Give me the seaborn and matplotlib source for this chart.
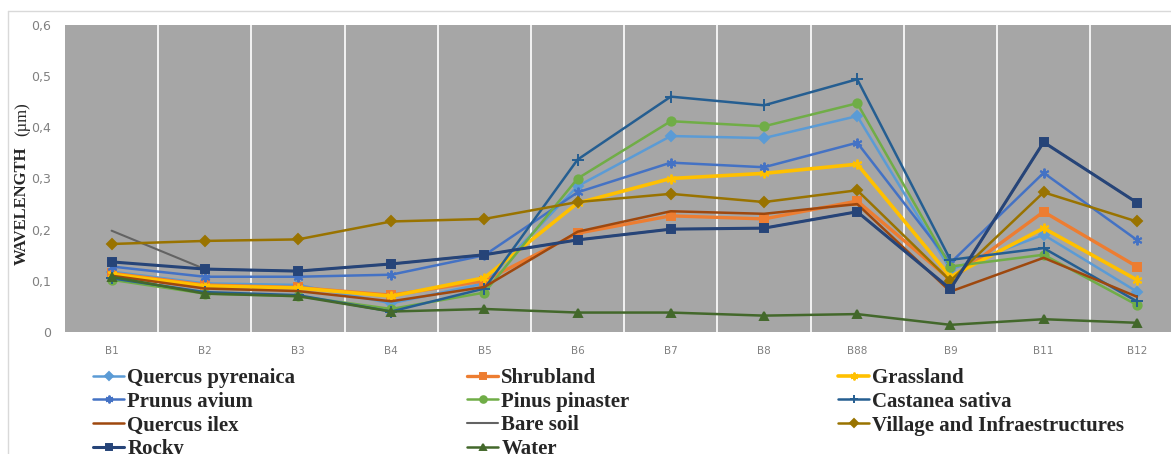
import numpy as np
import matplotlib
matplotlib.use("Agg")
import matplotlib.pyplot as plt
import seaborn as sns
from matplotlib.lines import Line2D
from matplotlib.ticker import FuncFormatter, MultipleLocator

# Sentinel bands on the x axis
bands = ["B1", "B2", "B3", "B4", "B5", "B6", "B7", "B8", "B88", "B9", "B11", "B12"]

# Values per class
quercus_pyrenaica = [0.118, 0.095, 0.092, 0.056, 0.095, 0.285, 0.383, 0.379, 0.422, 0.122, 0.190, 0.079]
shrubland = [0.115, 0.092, 0.087, 0.072, 0.100, 0.193, 0.227, 0.221, 0.256, 0.102, 0.235, 0.128]
grassland = [0.113, 0.090, 0.086, 0.070, 0.106, 0.252, 0.300, 0.310, 0.328, 0.108, 0.203, 0.102]
prunus_avium = [0.128, 0.108, 0.108, 0.112, 0.150, 0.273, 0.331, 0.322, 0.370, 0.135, 0.311, 0.180]
pinus_pinaster = [0.102, 0.075, 0.070, 0.045, 0.077, 0.300, 0.412, 0.402, 0.447, 0.128, 0.151, 0.053]
castanea_sativa = [0.105, 0.078, 0.072, 0.040, 0.085, 0.337, 0.460, 0.443, 0.494, 0.141, 0.164, 0.060]
quercus_ilex = [0.110, 0.085, 0.080, 0.060, 0.088, 0.196, 0.236, 0.231, 0.250, 0.079, 0.145, 0.069]
bare_soil = [0.198, 0.123, 0.119, 0.133, 0.151, 0.180, 0.201, 0.203, 0.235, 0.084, 0.371, 0.253]
village = [0.172, 0.178, 0.181, 0.216, 0.221, 0.254, 0.270, 0.254, 0.277, 0.100, 0.273, 0.216]
rocky = [0.137, 0.123, 0.119, 0.133, 0.151, 0.180, 0.201, 0.203, 0.235, 0.084, 0.371, 0.253]
water = [0.108, 0.075, 0.070, 0.040, 0.045, 0.038, 0.038, 0.032, 0.035, 0.014, 0.025, 0.018]

# name, values, colour, marker, marker size, line width (drawing order as in the original)
series = [
    ("Quercus pyrenaica", quercus_pyrenaica, "#5B9BD5", "D", 5, 1.8),
    ("Shrubland", shrubland, "#ED7D31", "s", 5.5, 2.4),
    ("Grassland", grassland, "#FFC000", (6, 2, 0), 7, 2.6),
    ("Prunus avium", prunus_avium, "#4472C4", (6, 2, 0), 7, 1.8),
    ("Pinus pinaster", pinus_pinaster, "#70AD47", "o", 6, 1.8),
    ("Castanea sativa", castanea_sativa, "#255E91", "+", 8, 1.8),
    ("Quercus ilex", quercus_ilex, "#9E480E", None, 0, 1.8),
    ("Bare soil", bare_soil, "#636363", None, 0, 1.5),
    ("Village and Infraestructures", village, "#997300", "D", 5, 1.8),
    ("Rocky", rocky, "#264478", "s", 6, 2.2),
    ("Water", water, "#43682B", "^", 6, 1.8),
]

sns.set_style("white")

W, H = 1171, 454
fig = plt.figure(figsize=(W / 100, H / 100), dpi=100)

# plot area in pixels
left, right, top, bottom = 65, 1171, 25, 332
step = 93.2
ax = fig.add_axes([left / W, (H - bottom) / H, (right - left) / W, (bottom - top) / H])
ax.set_facecolor("#A6A6A6")

x = np.arange(len(bands))
for name, vals, color, marker, ms, lw in series:
    kw = dict(color=color, linewidth=lw, label=name)
    if marker is not None:
        kw.update(marker=marker, markersize=ms, markeredgecolor=color,
                  markerfacecolor=color, markeredgewidth=1.4)
    sns.lineplot(x=x, y=vals, ax=ax, sort=False, **kw)

if ax.get_legend() is not None:
    ax.get_legend().remove()

ax.set_xlim(-0.5, -0.5 + (right - left) / step)
ax.set_ylim(0, 0.6)
ax.set_xticks(x)
ax.set_xticklabels(bands, fontsize=7.5, color="#808080")
ax.yaxis.set_major_locator(MultipleLocator(0.1))
ax.yaxis.set_major_formatter(FuncFormatter(lambda v, p: "0" if abs(v) < 1e-9 else f"{v:.1f}".replace(".", ",")))
ax.tick_params(axis="y", labelsize=9, colors="#808080", length=0, pad=10)
ax.tick_params(axis="x", length=0, pad=10)
ax.set_xticks(x[:-1] + 0.5, minor=True)
ax.tick_params(which="minor", length=0)
ax.grid(False)
ax.grid(True, which="minor", axis="x", color="white", linewidth=1.2)
for s in ax.spines.values():
    s.set_visible(False)
ax.set_xlabel("")
ax.set_ylabel("")

# outer chart border (top and left only visible)
fig.add_artist(Line2D([8 / W, 1], [1 - 11 / H, 1 - 11 / H], color="#D9D9D9", linewidth=1))
fig.add_artist(Line2D([8 / W, 8 / W], [0, 1 - 11 / H], color="#D9D9D9", linewidth=1))

# y axis title: bold word + regular unit
serif = ["Liberation Serif", "DejaVu Serif"]
fig.text(22 / W, 1 - 206 / H, "WAVELENGTH", rotation=90, ha="center", va="center",
         fontsize=12, fontweight="bold", family=serif)
fig.text(22 / W, 1 - 119 / H, "(\u00b5m)", rotation=90, ha="center", va="center",
         fontsize=12, family=serif)

# legend in three columns laid out like the original (row-major order)
handles, labels = ax.get_legend_handles_labels()
lookup = dict(zip(labels, handles))
columns = [
    (["Quercus pyrenaica", "Prunus avium", "Quercus ilex", "Rocky"], 93),
    (["Shrubland", "Pinus pinaster", "Bare soil", "Water"], 467),
    (["Grassland", "Castanea sativa", "Village and Infraestructures"], 838),
]
for names, xpx in columns:
    fig.legend([lookup[n] for n in names], names, loc="upper left",
               bbox_to_anchor=(xpx / W, 1 - 368 / H), frameon=False,
               borderpad=0, borderaxespad=0, handlelength=1.5, handletextpad=0.15,
               labelspacing=0.18, markerscale=0.8,
               prop={"family": serif, "weight": "bold", "size": 15})

fig.savefig("out.png", dpi=100)
